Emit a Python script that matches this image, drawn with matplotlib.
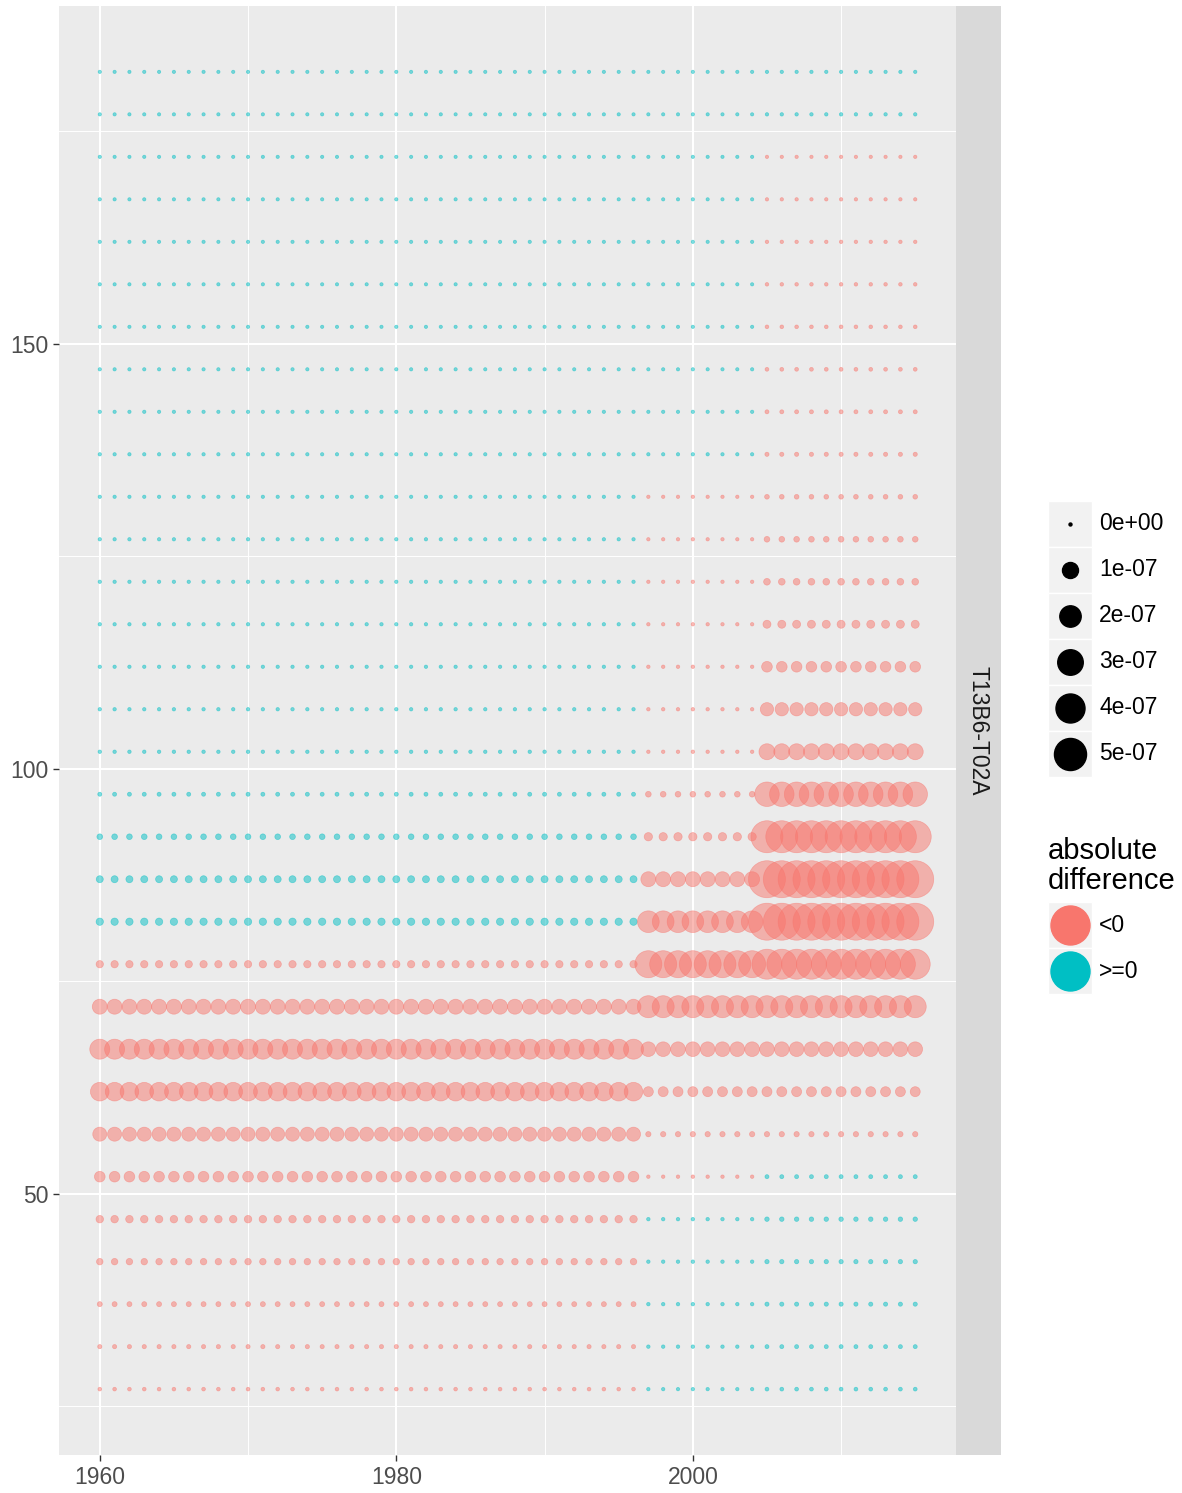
import numpy as np
import matplotlib.pyplot as plt
from matplotlib.patches import Rectangle

plt.rcParams['font.family'] = ['Liberation Sans', 'DejaVu Sans']

# facet rows (y) and the three year periods (x)
row_y = [182, 177, 172, 167, 162, 157, 152, 147, 142, 137,
         132, 127, 122, 117, 112, 107, 102, 97, 92, 87,
         82, 77, 72, 67, 62, 57, 52, 47, 42, 37, 32, 27]
period_start = [1960, 1997, 2005]
period_end = [1996, 2004, 2015]

# signed difference per row, units of 1e-07 (negative -> "<0")
diff_p1 = [0.0005, 0.0005, 0.0005, 0.0005, 0.0005, 0.0005, 0.0005, 0.0006,
           0.0007, 0.0008, 0.0008, 0.0009, 0.001, 0.001, 0.001, 0.0012,
           0.0015, 0.006, 0.043, 0.095, 0.11, -0.11, -0.85, -1.71,
           -1.45, -0.72, -0.35, -0.12, -0.072, -0.024, -0.0085, -0.003]
diff_p2 = [0.0005, 0.0005, 0.0005, 0.0005, 0.0005, 0.0005, 0.0005, 0.0006,
           0.0007, 0.0008, -0.001, -0.001, -0.0012, -0.0012, -0.0015, -0.0015,
           -0.0015, -0.043, -0.166, -0.85, -2.07, -3.41, -2.14, -0.81,
           -0.29, -0.031, -0.0015, 0.0015, 0.0015, 0.0015, 0.0015, 0.001]
diff_p3 = [0.0008, 0.0012, -0.0008, -0.001, -0.0015, -0.002, -0.003, -0.004,
           -0.006, -0.008, -0.017, -0.043, -0.081, -0.148, -0.35, -0.63,
           -1.0, -2.74, -4.98, -6.84, -6.84, -4.31, -2.14, -0.81,
           -0.29, -0.031, 0.006, 0.013, 0.01, 0.008, 0.006, 0.004]

size_breaks = [0, 1, 2, 3, 4, 5]
size_labels = ['0e+00', '1e-07', '2e-07', '3e-07', '4e-07', '5e-07']
col_labels = ['<0', '>=0']
col_values = ['#F8766D', '#00BFC4']


def diam_pt(v):
    # diameter in points for |value| (units 1e-07); area-type scale
    return (3 + 13 * np.sqrt(np.abs(v))) * 0.72


xs, ys, vals = [], [], []
for i, y in enumerate(row_y):
    for p, series in enumerate([diff_p1, diff_p2, diff_p3]):
        for yr in range(period_start[p], period_end[p] + 1):
            xs.append(yr)
            ys.append(y)
            vals.append(series[i])
xs = np.array(xs)
ys = np.array(ys)
vals = np.array(vals)
cols = np.where(vals < 0, col_values[0], col_values[1])

W, H = 1182, 1493
fig = plt.figure(figsize=(W / 100, H / 100), dpi=100)
ax = fig.add_axes([59 / W, 1 - 1455 / H, 897 / W, 1449 / H])
ax.set_facecolor('#EBEBEB')
for s in ax.spines.values():
    s.set_visible(False)

ax.scatter(xs, ys, s=diam_pt(vals) ** 2, c=cols, alpha=0.5,
           edgecolors=cols, linewidths=0.5, zorder=3)

ax.set_xlim(1957.25, 2017.75)
ax.set_ylim(19.25, 189.75)
ax.set_xticks([1960, 1980, 2000])
ax.set_xticks([1970, 1990, 2010], minor=True)
ax.set_yticks([50, 100, 150])
ax.set_yticks([25, 75, 125, 175], minor=True)
ax.grid(True, which='major', color='white', lw=1.5, zorder=0)
ax.grid(True, which='minor', color='white', lw=0.7, zorder=0)
ax.set_axisbelow(True)
ax.tick_params(which='major', length=4.3, width=1.0, color='#333333',
               labelsize=16.5, labelcolor='#4D4D4D', pad=3.5)
ax.tick_params(which='minor', length=0)

# facet strip
sax = fig.add_axes([956 / W, 1 - 1455 / H, 45 / W, 1449 / H])
sax.set_facecolor('#D9D9D9')
sax.set_xticks([])
sax.set_yticks([])
for s in sax.spines.values():
    s.set_visible(False)
sax.text(0.5, 0.5, 'T13B6-T02A', rotation=270, ha='center', va='center',
         fontsize=16.5, color='#1A1A1A', transform=sax.transAxes)

# legends, drawn in figure pixel space
lax = fig.add_axes([0, 0, 1, 1])
lax.set_xlim(0, W)
lax.set_ylim(H, 0)
lax.axis('off')

key_x, key_w, key_h = 1048, 44, 46
y0 = 524
for j, (b, lab) in enumerate(zip(size_breaks, size_labels)):
    cy = y0 + j * key_h
    lax.add_patch(Rectangle((key_x, cy - key_h / 2), key_w, key_h,
                            facecolor='#F2F2F2', edgecolor='white', lw=1))
    lax.scatter([key_x + key_w / 2], [cy], s=diam_pt(b) ** 2, c='black',
                zorder=3)
    lax.text(1099, cy, lab, ha='left', va='center', fontsize=16.5,
             color='black')

lax.text(key_x, 866, 'absolute\ndifference', ha='left', va='center',
         fontsize=21, linespacing=1.1, color='black')
y1 = 925
for j, (lab, c) in enumerate(zip(col_labels, col_values)):
    cy = y1 + j * key_h
    lax.add_patch(Rectangle((key_x, cy - key_h / 2), key_w, key_h,
                            facecolor='#F2F2F2', edgecolor='white', lw=1))
    lax.scatter([key_x + key_w / 2], [cy], s=(39 * 0.72) ** 2, c=c,
                zorder=3)
    lax.text(1099, cy, lab, ha='left', va='center', fontsize=16.5,
             color='black')

fig.savefig('out.png', dpi=100)
